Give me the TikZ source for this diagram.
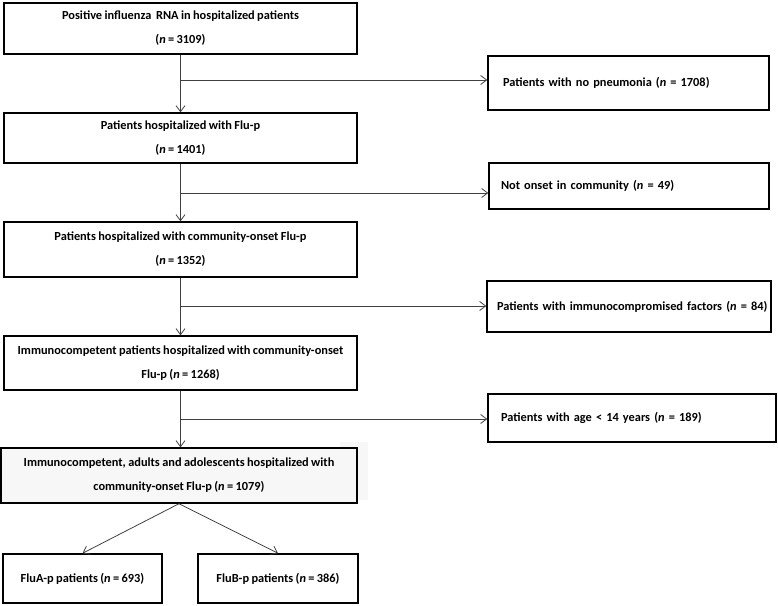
\documentclass[tikz,border=0pt]{standalone}
\usepackage{fontspec}
\setmainfont{Carlito}[WordSpace=0.85]
\usetikzlibrary{arrows.meta}
\tikzset{
  mainbox/.style={draw=black, line width=1.4bp, align=center, inner sep=0pt,
    font=\bfseries\fontsize{12.4}{24}\selectfont},
  sidebox/.style={draw=black, line width=1.4bp, align=left, inner ysep=0pt,
    font=\bfseries\fontsize{12.4}{24}\selectfont},
  flow/.style={draw=black!75, line width=0.8bp, -{Straight Barb[length=6bp,width=9bp]}}
}
\begin{document}
\begin{tikzpicture}[x=1bp,y=-1bp]
\useasboundingbox (0,0) rectangle (778,606);
\fill[black!3] (340,442) rectangle (368,500);
% main column
\node[mainbox, minimum width=353bp, minimum height=51bp] (b1) at (180.5,28.5)
  {Positive influenza\ \ RNA in hospitalized patients\\(\textit{n} = 3109)};
\node[mainbox, minimum width=353bp, minimum height=50bp] (b2) at (180.5,138)
  {Patients hospitalized with Flu-p\\(\textit{n} = 1401)};
\node[mainbox, minimum width=353bp, minimum height=55bp] (b3) at (180.5,249.5)
  {Patients hospitalized with community-onset Flu-p\\(\textit{n} = 1352)};
\node[mainbox, minimum width=353bp, minimum height=54bp] (b4) at (180.5,363)
  {Immunocompetent patients hospitalized with community-onset\\Flu-p (\textit{n} = 1268)};
\node[mainbox, fill=black!3, minimum width=356bp, minimum height=55bp] (b5) at (179,475.5)
  {Immunocompetent, adults and adolescents hospitalized with\\community-onset Flu-p (\textit{n} = 1079)};
\node[mainbox, minimum width=159bp, minimum height=49bp] (fa) at (82.5,578.5)
  {FluA-p patients (\textit{n} = 693)};
\node[mainbox, minimum width=160bp, minimum height=49bp] (fb) at (278,578.5)
  {FluB-p patients (\textit{n} = 386)};
% side boxes
\node[sidebox, inner xsep=15bp, text width=251bp, minimum height=54bp] (r1) at (628.5,83)
  {\mbox{Patients with no pneumonia (\textit{n} = 1708)}};
\node[sidebox, inner xsep=12bp, text width=256bp, minimum height=46bp] (r2) at (629,186)
  {\mbox{Not onset in community (\textit{n} = 49)}};
\node[sidebox, inner xsep=10bp, text width=264bp, minimum height=51bp] (r3) at (629,306.5)
  {\mbox{Patients with immunocompromised factors (\textit{n} = 84)}};
\node[sidebox, inner xsep=13bp, text width=262bp, minimum height=48bp] (r4) at (632,418)
  {\mbox{Patients with age < 14 years (\textit{n} = 189)}};
% junctions
\coordinate (j1) at (180.5,80);
\coordinate (j2) at (180.5,193);
\coordinate (j3) at (180.5,306);
\coordinate (j4) at (180.5,419);
% connectors
\draw[flow] (b1.south) -- (b2.north);
\draw[flow] (b2.south) -- (b3.north);
\draw[flow] (b3.south) -- (b4.north);
\draw[flow] (b4.south) -- (b4.south |- b5.north);
\draw[flow] (j1) -- (j1 -| r1.west);
\draw[flow] (j2) -- (j2 -| r2.west);
\draw[flow] (j3) -- (j3 -| r3.west);
\draw[flow] (j4) -- (j4 -| r4.west);
\draw[flow] (b5.south) -- (fa.north);
\draw[flow] (b5.south) -- (fb.north);
\end{tikzpicture}
\end{document}
